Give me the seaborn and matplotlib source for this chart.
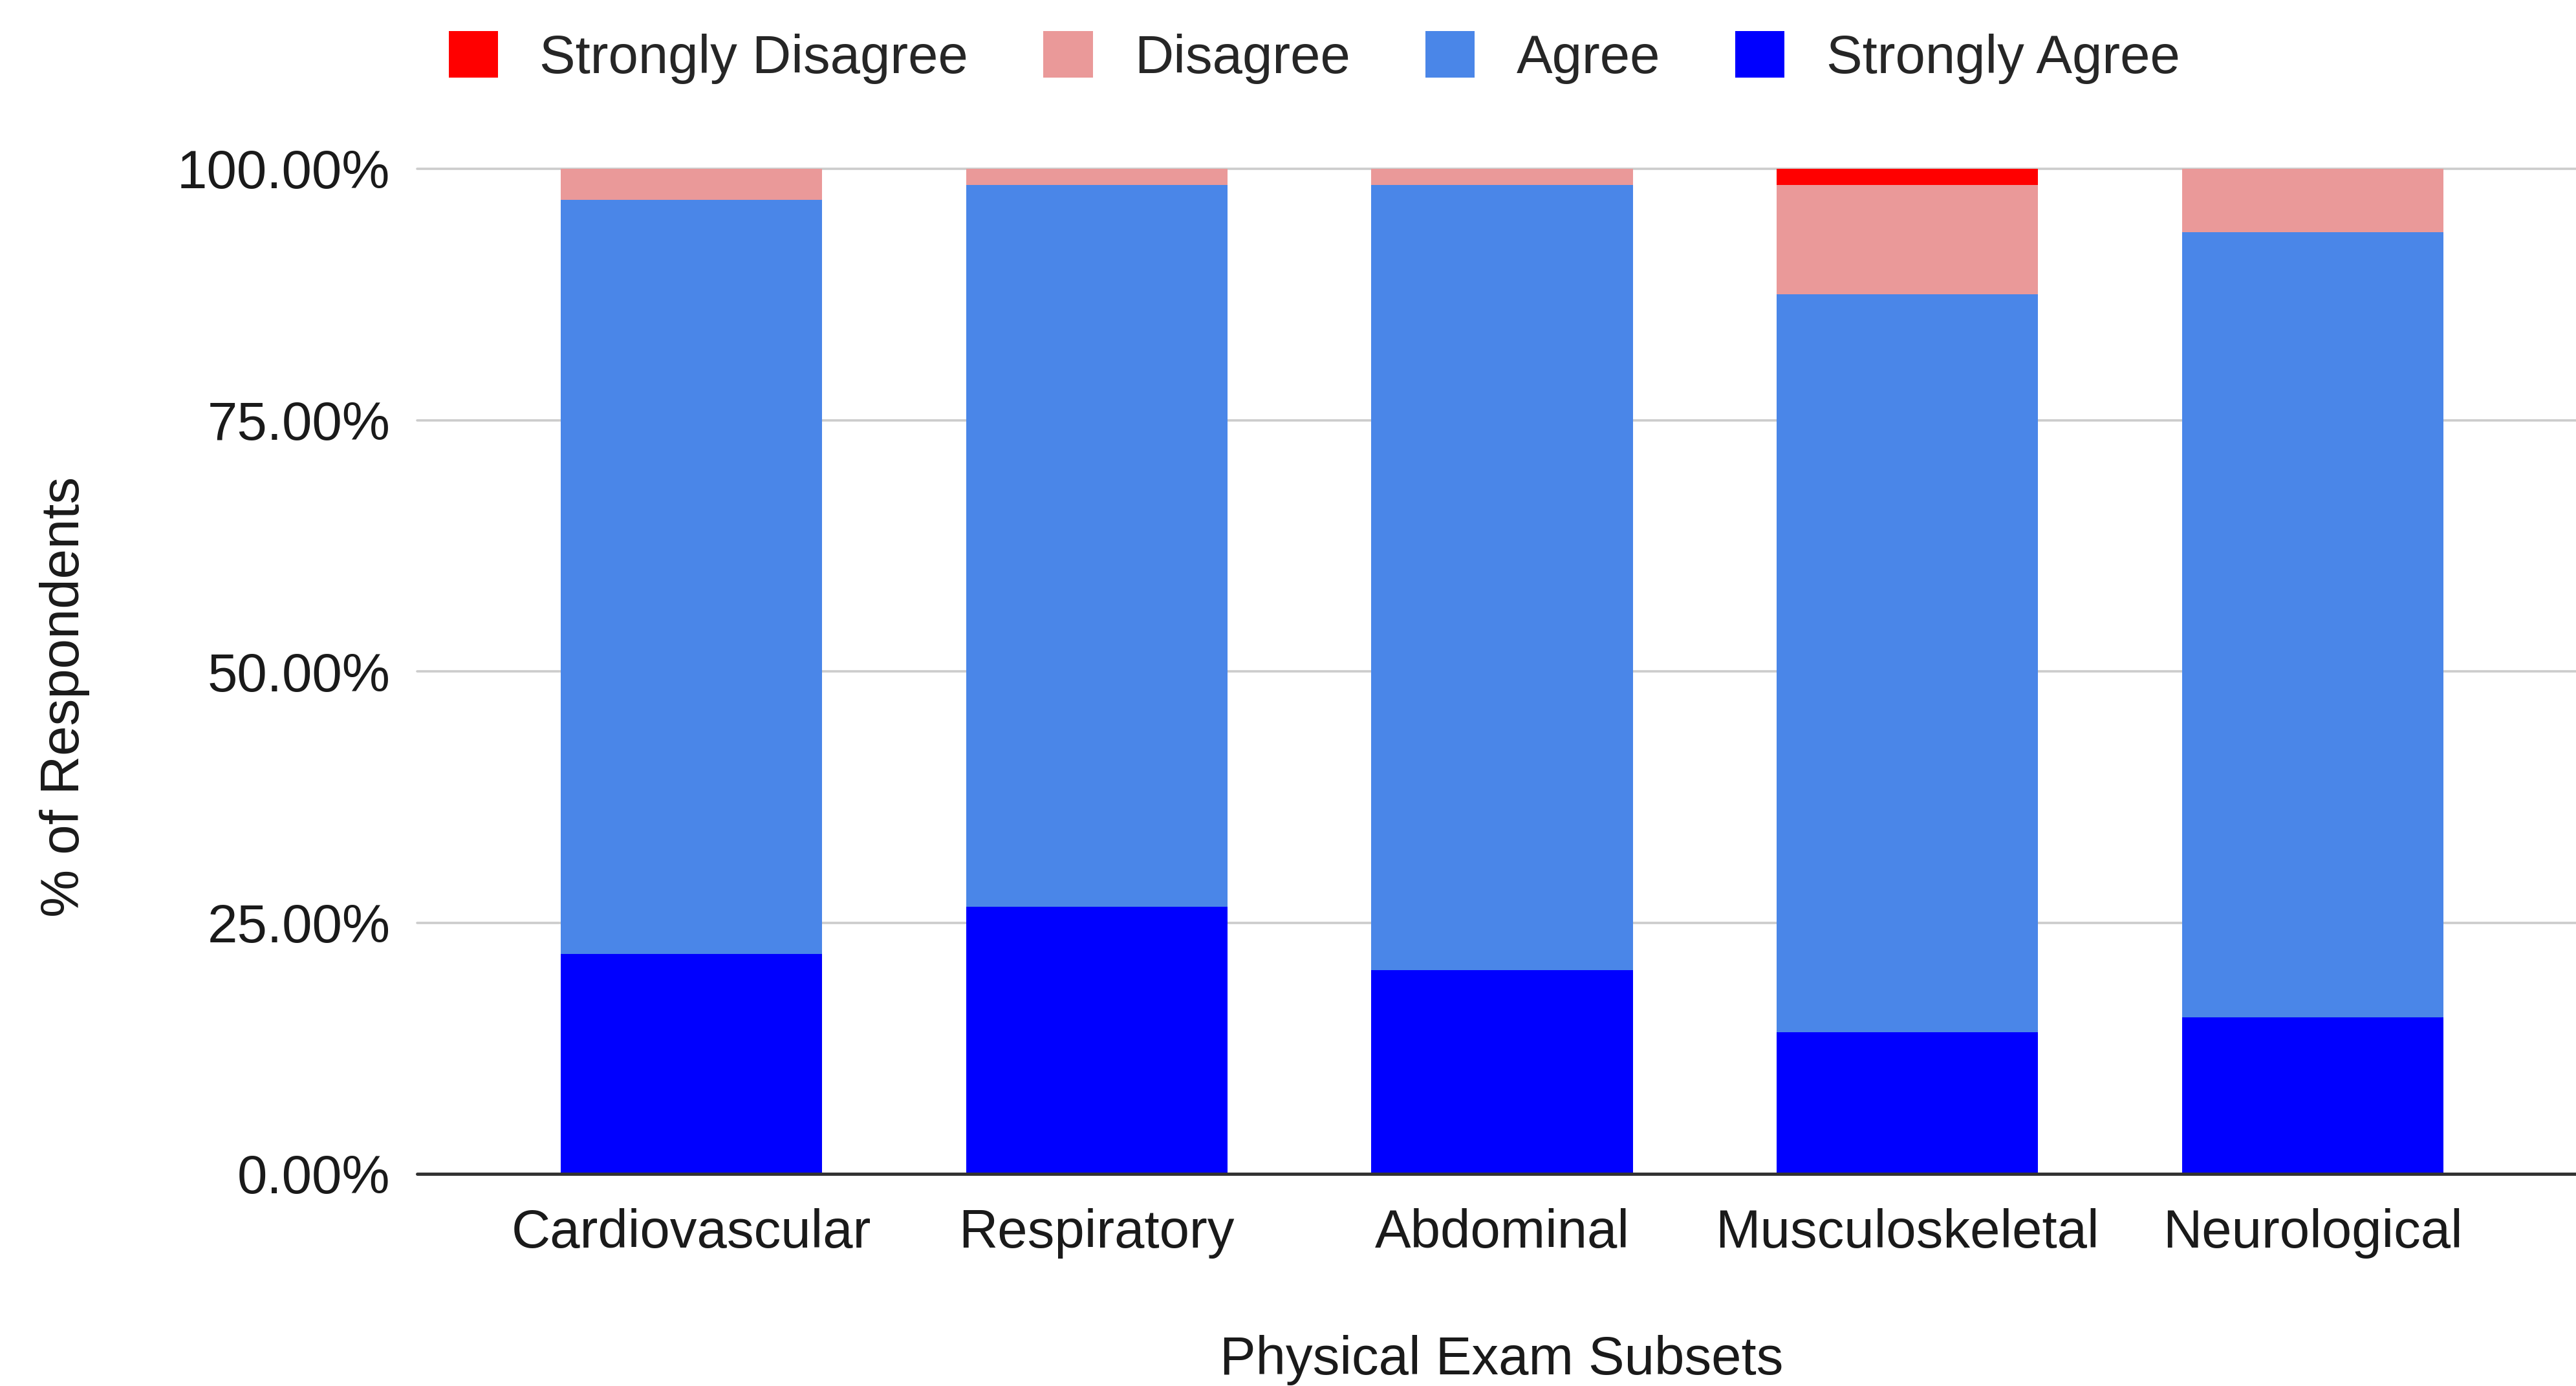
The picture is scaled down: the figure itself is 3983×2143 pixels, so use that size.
import matplotlib
matplotlib.use("Agg")
import matplotlib.pyplot as plt
from matplotlib.patches import Patch
from matplotlib.ticker import FuncFormatter
import numpy as np
import pandas as pd
import seaborn as sns

# Survey responses per physical exam subset (% of respondents)
subsets = ["Cardiovascular", "Respiratory", "Abdominal", "Musculoskeletal", "Neurological"]
strongly_agree = [21.9, 26.6, 20.3, 14.1, 15.6]
agree = [75.0, 71.8, 78.1, 73.4, 78.1]
disagree = [3.1, 1.6, 1.6, 10.9, 6.3]
strongly_disagree = [0.0, 0.0, 0.0, 1.6, 0.0]

levels = ["Strongly Disagree", "Disagree", "Agree", "Strongly Agree"]
colors = {"Strongly Disagree": "#ff0000", "Disagree": "#ea9999",
          "Agree": "#4a86e8", "Strongly Agree": "#0000ff"}

df = pd.DataFrame({"subset": subsets, "Strongly Agree": strongly_agree,
                   "Agree": agree, "Disagree": disagree,
                   "Strongly Disagree": strongly_disagree})

# cumulative heights, stacked from the bottom (Strongly Agree) upward
stack_order = ["Strongly Agree", "Agree", "Disagree", "Strongly Disagree"]
cum = df[stack_order].cumsum(axis=1)

sns.set_theme(style="white")
plt.rcParams["font.family"] = ["Liberation Sans", "DejaVu Sans"]

fig = plt.figure(figsize=(39.83, 21.43), dpi=100)
ax = fig.add_axes([645 / 3983, 1 - 1815 / 2143, 1 - 645 / 3983, (1815 - 261) / 2143])

# draw the tallest cumulative layer first so lower layers overlay it
for level in reversed(stack_order):
    sns.barplot(x=df["subset"], y=cum[level], color=colors[level], width=0.645,
                saturation=1, ax=ax, order=subsets, linewidth=0, zorder=2)

ax.set_xlim(-0.677, 4.65)
ax.set_ylim(0, 100)
ax.set_yticks([0, 25, 50, 75, 100])
ax.yaxis.set_major_formatter(FuncFormatter(lambda v, p: f"{v:.2f}%"))
for v in [25, 50, 75, 100]:
    ax.axhline(v, color="#cccccc", lw=2.6, zorder=1, clip_on=False)
ax.axhline(0, color="#333333", lw=3.6, zorder=3, clip_on=False)

for s in ax.spines.values():
    s.set_visible(False)
ax.tick_params(axis="both", length=0, labelsize=60, colors="#1a1a1a")
ax.tick_params(axis="x", pad=38)
ax.tick_params(axis="y", pad=30)

ax.set_xlabel("")
ax.set_ylabel("")
fig.text(2322 / 3983, 1 - 2103 / 2143, "Physical Exam Subsets", ha="center",
         va="center", fontsize=60, color="#1a1a1a")
fig.text(100 / 3983, 1 - 1077 / 2143, "% of Respondents", ha="center",
         va="center", rotation=90, fontsize=60, color="#1a1a1a")

handles = [Patch(facecolor=colors[l], edgecolor="none", label=l) for l in levels]
fig.legend(handles=handles, loc="center", ncol=4,
           bbox_to_anchor=(2032 / 3983, 1 - 89 / 2143), frameon=False,
           fontsize=60, handlelength=0.92, handleheight=0.95,
           handletextpad=0.77, columnspacing=1.39, borderaxespad=0)

fig.savefig("out.png", dpi=100, facecolor="white")
